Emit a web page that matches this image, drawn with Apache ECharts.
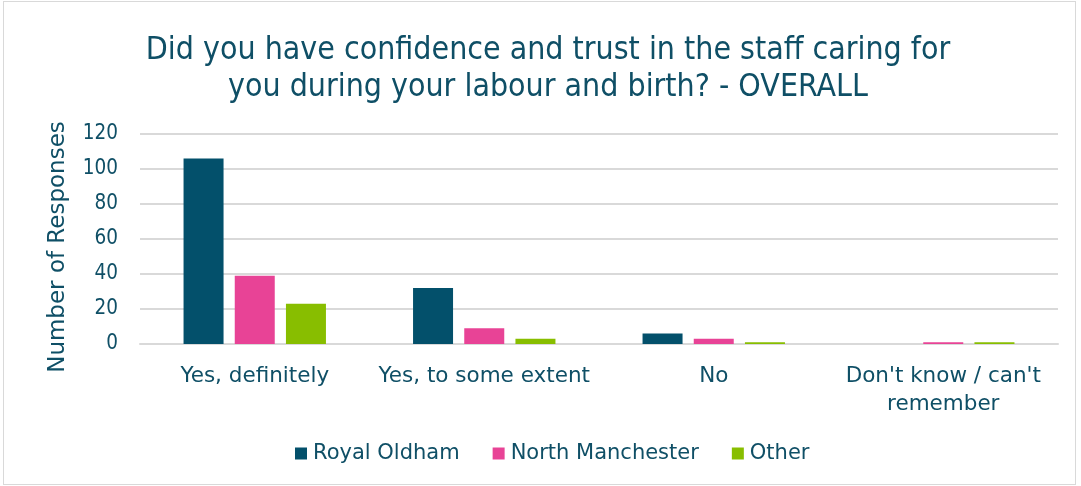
<!DOCTYPE html>
<html>
<head>
<meta charset="utf-8">
<script src="https://cdn.jsdelivr.net/npm/echarts@6/dist/echarts.min.js"></script>
<style>
  html, body { margin: 0; padding: 0; background: #fff; }
  #main { width: 1081px; height: 486px; }
  #frame { position: absolute; left: 3px; top: 1px; width: 1071px; height: 482px; border: 1px solid #d9d9d9; pointer-events: none; }
</style>
</head>
<body>
<div id="main"></div>
<div id="frame"></div>
<script>
  var categories = ['Yes, definitely', 'Yes, to some extent', 'No', "Don't know / can't\nremember"];
  var royalOldham = [106, 32, 6, 0];
  var northManchester = [39, 9, 3, 1];
  var other = [23, 3, 1, 1];

  var textColor = '#0f4f66';
  var fontFam = '"DejaVu Sans", sans-serif';
  var condFam = '"DejaVu Sans Condensed", sans-serif';

  var myChart = echarts.init(document.getElementById('main'));
  var option = {
    animation: false,
    title: {
      text: 'Did you have confidence and trust in the staff caring for\nyou during your labour and birth? - OVERALL',
      left: 543,
      textAlign: 'center',
      top: 27,
      textStyle: {
        color: textColor,
        fontFamily: condFam,
        fontWeight: 'normal',
        fontSize: 31.8,
        lineHeight: 37
      }
    },
    legend: {
      bottom: 17,
      left: 290,
      itemWidth: 12,
      itemHeight: 12,
      itemGap: 33,
      icon: 'rect',
      textStyle: { color: textColor, fontFamily: fontFam, fontSize: 21, padding: [0, 0, 0, 1] },
      data: ['Royal Oldham', 'North Manchester', 'Other']
    },
    grid: { left: 140, right: 23, top: 134, bottom: 142 },
    xAxis: {
      type: 'category',
      data: categories,
      axisTick: { show: false },
      axisLine: { lineStyle: { color: '#d9d9d9', width: 2 } },
      axisLabel: {
        color: textColor, fontFamily: fontFam, fontSize: 21.5,
        lineHeight: 28, margin: 18, interval: 0
      }
    },
    yAxis: {
      type: 'value',
      min: 0,
      max: 120,
      interval: 20,
      name: 'Number of Responses',
      nameLocation: 'middle',
      nameGap: 70,
      nameTextStyle: { color: textColor, fontFamily: fontFam, fontSize: 23, padding: [0, 16, 0, 0] },
      axisLabel: { color: textColor, fontFamily: condFam, fontSize: 20.5, margin: 22 },
      splitLine: { lineStyle: { color: '#d9d9d9', width: 2 } }
    },
    series: [
      { name: 'Royal Oldham', type: 'bar', data: royalOldham, barWidth: 40, barGap: '28%',
        itemStyle: { color: '#03506b' } },
      { name: 'North Manchester', type: 'bar', data: northManchester, barWidth: 40, barGap: '28%',
        itemStyle: { color: '#e84396' } },
      { name: 'Other', type: 'bar', data: other, barWidth: 40, barGap: '28%',
        itemStyle: { color: '#88be00' } }
    ]
  };
  myChart.setOption(option);
</script>
</body>
</html>
